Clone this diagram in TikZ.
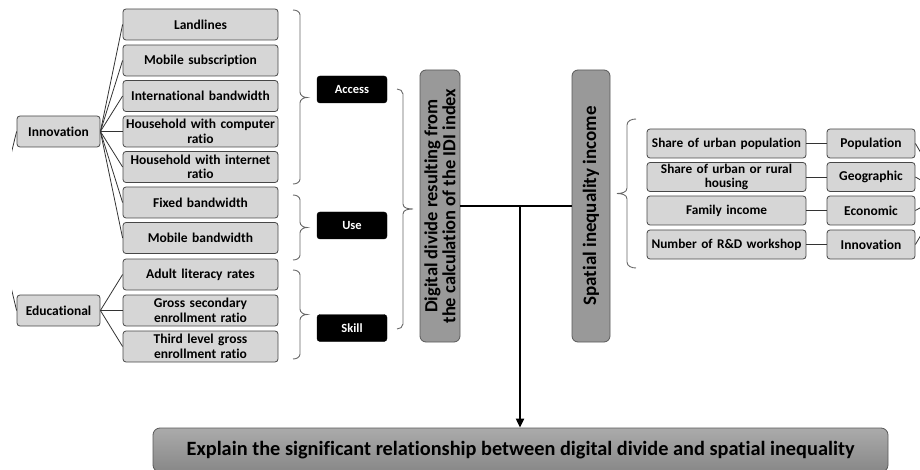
\documentclass[tikz,border=0pt]{standalone}
\usepackage{fontspec}
\setmainfont{Carlito}[Ligatures=NoCommon]
\usetikzlibrary{arrows.meta}
\begin{document}
\begin{tikzpicture}[x=1pt,y=-1pt,
  lbox/.style={draw=black!72, fill=black!16, rounded corners=3pt, line width=0.8pt,
    align=center, font=\bfseries\fontsize{13.5}{14.5}\selectfont,
    inner xsep=1pt, inner ysep=0pt, minimum height=31pt, text width=153pt},
  cbox/.style={lbox, text width=81pt},
  rbox/.style={lbox, minimum height=29pt, text width=157pt, font=\bfseries\fontsize{13.3}{13.8}\selectfont},
  kbox/.style={lbox, minimum height=29pt, text width=86pt},
  blk/.style={fill=black, draw=black, rounded corners=3pt, text=white,
    font=\bfseries\fontsize{12.5}{13}\selectfont, minimum width=70pt,
    minimum height=27pt, inner sep=0pt},
  big/.style={draw=black!65, fill=black!40, rounded corners=6pt, line width=0.8pt,
    align=center, inner sep=0pt},
  conn/.style={draw=black!80, line width=0.8pt},
  brc/.style={draw=black!60, line width=0.9pt},
  thk/.style={draw=black, line width=2.6pt},
  arr/.style={draw=black, line width=2pt, -{Triangle[length=9pt,width=8pt]}}
]
\useasboundingbox (0,0) rectangle (920,470);
\clip (0,0) rectangle (920,470);

% left column
\node[lbox] (b1) at (200.5,24.5) {Landlines};
\node[lbox] (b2) at (200.5,60.5) {Mobile subscription};
\node[lbox] (b3) at (200.5,96) {International bandwidth};
\node[lbox] (b4) at (200.5,131.5) {Household with computer\\ratio};
\node[lbox] (b5) at (200.5,167) {Household with internet\\ratio};
\node[lbox] (b6) at (200.5,202.5) {Fixed bandwidth};
\node[lbox] (b7) at (200.5,238) {Mobile bandwidth};
\node[lbox] (b8) at (200.5,274.5) {Adult literacy rates};
\node[lbox] (b9) at (200.5,310.5) {Gross secondary\\enrollment ratio};
\node[lbox] (b10) at (200.5,346.5) {Third level gross\\enrollment ratio};

\node[cbox] (inn) at (58.5,131.5) {Innovation};
\node[cbox] (edu) at (58.5,310.5) {Educational};
\coordinate (lp) at (-5,220);
\begin{scope}
\clip (12,0) rectangle (60,470);
\draw[conn] (inn.west) -- (lp);
\draw[conn] (edu.west) -- (lp);
\end{scope}

\foreach \k in {1,...,7} \draw[conn] (inn.east) -- (b\k.west);
\foreach \k in {8,9,10} \draw[conn] (edu.east) -- (b\k.west);

% access / use / skill
\node[blk] (acc) at (352,89.5) {Access};
\node[blk] (use) at (352,225.5) {Use};
\node[blk] (skl) at (352,328) {Skill};

\draw[brc] (293,10) to[out=0,in=90] (300,15) -- (300,92) to[out=-90,in=180] (307,97.5)
  to[out=180,in=90] (300,103) -- (300,179) to[out=-90,in=0] (293,184);
\draw[brc] (293,195) to[out=0,in=90] (300,200) -- (300,222) to[out=-90,in=180] (307,227.5)
  to[out=180,in=90] (300,233) -- (300,255) to[out=-90,in=0] (293,260);
\draw[brc] (293,270) to[out=0,in=90] (300,275) -- (300,309) to[out=-90,in=180] (307,314.5)
  to[out=180,in=90] (300,320) -- (300,354) to[out=-90,in=0] (293,359);
\draw[brc] (397,89) to[out=0,in=90] (403,94) -- (403,204) to[out=-90,in=180] (413,209)
  to[out=180,in=90] (403,214) -- (403,324) to[out=-90,in=0] (397,329);

% central boxes
\node[big, rotate=90, minimum width=272pt, minimum height=40pt,
  font=\bfseries\fontsize{18.5}{18}\selectfont] (dd) at (440,206)
  {Digital divide resulting from\\the calculation of the IDI index};
\node[big, rotate=90, minimum width=272pt, minimum height=38pt,
  font=\bfseries\fontsize{19}{19}\selectfont] (sp) at (591,206)
  {Spatial inequality income};

\draw[thk] (dd) -- (sp);
\coordinate (j) at (520,206);

\node[draw=black!65, rounded corners=7pt, line width=0.8pt, top color=black!33,
  bottom color=black!47, minimum width=735pt, minimum height=44pt, inner sep=0pt,
  font=\bfseries\fontsize{20.3}{22}\selectfont] (bot) at (520.5,450)
  {Explain the significant relationship between digital divide and spatial inequality};
\draw[arr] (j) -- (j |- bot.north);

% right side
\draw[brc] (636,119) to[out=180,in=90] (627,125) -- (627,188) to[out=-90,in=0] (617,193.5)
  to[out=0,in=90] (627,199) -- (627,262) to[out=-90,in=180] (636,268);

\node[rbox] (r1) at (726.5,143.5) {Share of urban population};
\node[rbox] (r2) at (726.5,177) {Share of urban or rural\\housing};
\node[rbox] (r3) at (726.5,210.5) {Family income};
\node[rbox] (r4) at (726.5,244.5) {Number of R\&D workshop};

\node[kbox] (c1) at (871,143.5) {Population};
\node[kbox] (c2) at (871,177) {Geographic};
\node[kbox] (c3) at (871,210.5) {Economic};
\node[kbox] (c4) at (871,244.5) {Innovation};

\foreach \k in {1,...,4} \draw[conn] (r\k.east) -- (c\k.west);
\coordinate (rp) at (945,194);
\foreach \k in {1,...,4} \draw[conn] (c\k.east) -- (rp);
\end{tikzpicture}
\end{document}
